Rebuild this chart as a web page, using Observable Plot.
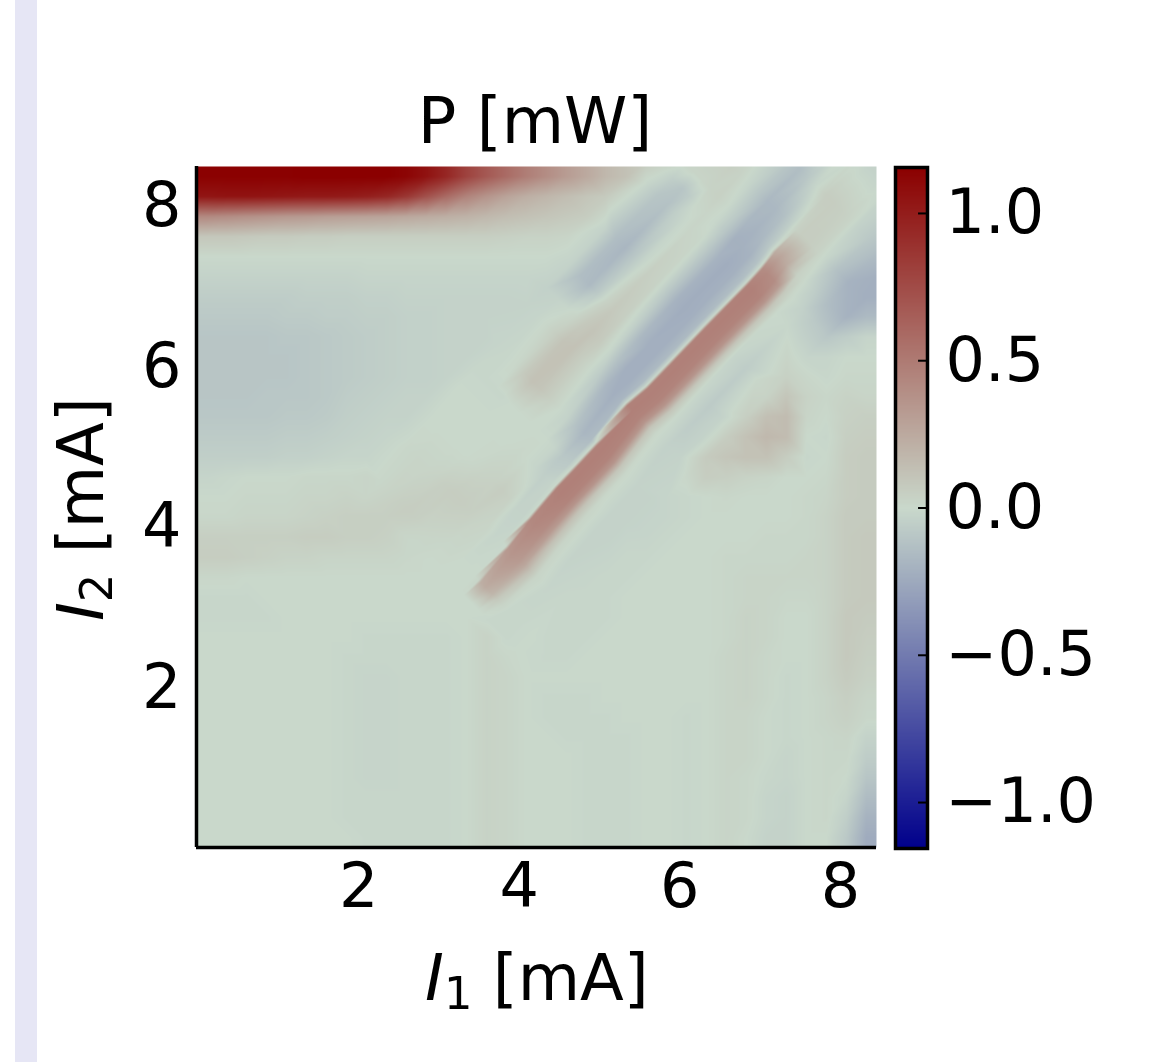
<!DOCTYPE html>
<html>
<head>
<meta charset="utf-8">
<script src="https://cdn.jsdelivr.net/npm/d3@7"></script>
<script src="https://cdn.jsdelivr.net/npm/@observablehq/plot@0.6"></script>
<style>
  html, body { margin: 0; padding: 0; background: #fff; overflow: hidden; }
  body { width: 1169px; height: 1062px; position: relative; }
  #band { position: absolute; left: 15px; top: 0; width: 22px; height: 1062px; background: #e6e6f5; }
  #main, #bar { position: absolute; top: 0; filter: blur(0.7px); }
  #main { left: 0; }
  #bar { left: 880px; }
</style>
</head>
<body>
<div id="band"></div>
<div id="main"></div>
<div id="bar"></div>
<script>
// P [mW] × 100 on a regular grid: rows run top (I2 high) to bottom, columns I1 low to high
const powerRows = [
[115,115,115,115,115,116,116,116,116,116,113,106,95,80,68,58,48,40,32,25,17,12,7,3,4,6,7,5,1,-5,-14,0,3,-3],
[104,105,105,104,103,102,102,101,99,95,86,72,58,45,36,28,22,18,14,10,7,4,1,-8,-7,2,5,1,-12,-17,-4,5,3,0],
[42,40,38,36,34,33,31,30,29,28,26,24,22,20,17,14,12,10,8,6,3,-2,-10,-10,0,4,-2,-14,-18,-3,5,7,3,-2],
[9,9,8,7,7,6,6,5,5,5,5,5,5,5,5,4,3,3,2,0,-6,-15,-12,0,3,2,-18,-22,-5,3,7,7,-2,-8],
[0,0,0,0,0,0,0,0,0,0,0,0,0,0,0,0,0,0,-1,-8,-16,-12,0,3,1,-15,-24,-14,2,20,4,-3,-10,-15],
[-3,-3,-3,-3,-3,-3,-3,-3,-2,-2,-2,-2,-2,-2,-2,-2,-2,-2,-3,-14,-15,-3,3,4,-10,-26,-22,2,42,15,0,-6,-18,-22],
[-6,-6,-6,-6,-6,-5,-5,-5,-4,-4,-3,-3,-3,-3,-3,-3,-3,-3,-3,-10,-6,3,6,5,-18,-26,-8,45,35,0,-2,-12,-22,-22],
[-8,-8,-8,-8,-7,-7,-6,-6,-5,-5,-4,-4,-3,-3,-3,-3,-3,-3,-2,1,5,7,3,-22,-26,-10,45,42,2,-1,-8,-16,-20,-16],
[-10,-10,-10,-10,-9,-9,-8,-7,-6,-5,-4,-4,-3,-3,-3,-2,-1,1,6,10,10,3,-16,-26,-12,47,44,2,-2,0,-5,-9,-6,-2],
[-10,-10,-10,-10,-10,-9,-8,-7,-6,-5,-4,-4,-3,-3,-3,-2,0,12,13,7,-3,-14,-24,-15,47,44,0,-5,-3,0,-2,-2,0,0],
[-10,-10,-10,-10,-10,-9,-8,-7,-6,-5,-4,-4,-3,-3,-3,-2,7,14,7,-2,-10,-20,-20,46,46,0,-7,-7,-3,4,1,-1,1,1],
[-10,-10,-10,-9,-9,-9,-8,-6,-5,-4,-3,-3,-2,-2,-2,-1,8,9,1,-8,-16,-24,46,46,2,-6,-6,-3,3,10,3,1,3,2],
[-9,-9,-9,-9,-8,-8,-7,-5,-4,-3,-3,-2,-2,-2,-2,-1,2,2,-3,-18,-24,46,44,0,-5,-5,0,5,13,15,2,0,4,5],
[-7,-7,-7,-7,-6,-6,-5,-4,-3,-2,-2,-2,-1,-1,-1,0,1,-1,-16,-22,32,47,12,-2,-3,1,6,12,17,15,0,-1,5,6],
[-5,-5,-5,-5,-4,-4,-3,-2,-2,-1,-1,0,0,0,0,0,0,-5,-20,18,47,20,-1,-2,1,7,10,12,12,6,-1,0,6,7],
[-2,-1,0,0,0,1,1,1,2,2,2,2,3,3,3,2,-2,-12,25,47,20,-1,-2,-1,1,6,5,3,2,0,0,1,6,7],
[0,0,1,1,1,2,2,3,3,4,4,5,5,6,6,5,-5,25,46,15,-1,-3,-3,-2,-1,0,1,0,0,0,1,2,6,7],
[1,1,2,2,2,3,4,5,5,6,6,6,6,6,4,1,22,45,12,-2,-3,-3,-3,-2,-1,0,0,0,0,0,1,3,7,7],
[5,5,5,5,5,6,6,5,5,4,3,3,2,2,1,12,42,22,-1,-3,-3,-2,-2,-1,0,0,0,0,1,1,1,3,7,8],
[6,6,5,4,3,3,2,2,2,2,1,1,1,1,2,32,22,-1,-2,-2,-1,-1,-1,0,0,0,1,1,1,1,2,3,7,8],
[1,1,0,0,0,0,0,0,0,0,0,0,0,0,20,26,1,-1,-2,-1,-1,-1,0,0,0,0,1,2,2,2,2,3,7,8],
[-1,-1,-1,0,0,0,0,0,0,0,0,0,0,0,12,5,-1,-1,-1,-1,-1,0,0,0,0,0,1,2,2,1,1,3,7,8],
[-1,-1,-1,-1,0,0,0,0,0,0,0,0,0,0,2,0,-1,-1,-1,-1,-1,0,0,0,0,0,1,3,2,0,0,3,8,7],
[0,0,0,0,0,0,0,0,-1,-1,-1,-1,-1,0,3,1,-1,-1,-1,-1,0,0,0,0,0,0,1,3,2,0,0,3,8,6],
[0,0,0,0,0,0,0,-1,-1,-1,-1,-1,-1,0,3,1,-1,-1,-1,0,0,0,0,0,0,0,2,3,1,0,0,3,8,5],
[0,0,0,0,0,0,0,-1,-2,-2,-1,-1,-1,0,3,2,0,0,0,0,0,0,0,0,0,0,2,3,1,-1,0,3,7,4],
[0,0,0,0,0,0,0,-1,-2,-2,-1,-1,-1,0,3,2,0,-1,-1,-1,0,0,0,0,0,0,2,3,1,-1,0,2,5,2],
[0,0,0,0,0,0,0,-1,-2,-2,-1,-1,-1,0,3,2,0,-1,-1,-1,-1,0,0,0,-1,0,2,2,0,-1,0,2,4,1],
[0,0,0,0,0,0,0,-1,-2,-2,-1,-1,-1,0,3,2,0,0,-1,-1,-1,-1,0,0,-1,0,2,2,0,-1,0,1,2,-3],
[0,0,0,0,0,0,0,-1,-2,-2,-1,-1,-1,0,3,2,0,0,0,-1,-1,-1,0,0,-1,0,2,2,0,-2,0,1,1,-6],
[0,0,0,0,0,0,0,-1,-2,-2,-1,-1,-1,0,3,2,0,0,0,-1,-1,-1,0,0,-1,0,2,1,-1,-2,0,1,0,-10],
[0,0,0,0,0,0,0,-1,-1,-1,-1,-1,-1,0,3,2,0,0,0,-1,-1,-1,0,0,-1,0,2,1,-2,-3,0,1,-2,-15],
[0,0,0,0,0,0,0,-1,-1,-1,-1,-1,-1,0,3,2,0,0,0,-1,-1,-1,0,0,-1,0,2,1,-2,-3,0,1,-5,-20],
[0,0,0,0,0,0,0,0,-1,-1,-1,-1,-1,0,3,2,0,0,0,-1,-1,-1,0,0,-1,0,2,0,-3,-3,0,0,-8,-24]
];
// The diagonal bands, read along their own direction: stations on the ridge line, and offsets across it
const ridgeI1 = [3.44,3.62,3.96,4.24,4.57,4.80,5.07,5.45,5.70,5.98,6.42,6.94,7.13,7.28,7.55,7.95,8.40];
const ridgeI2 = [3.03,3.22,3.64,4.00,4.39,4.63,4.92,5.42,5.63,5.92,6.38,6.91,7.12,7.32,7.60,8.00,8.45];
const acrossOffsets = [-0.55,-0.40,-0.25,-0.18,-0.11,-0.05,0.04,0.10,0.125,0.17,0.26,0.36,0.46,0.56,0.68,0.80,0.90,1.00,1.10,1.22,1.35];
const bandRows = [
[0,-1,-1,-1,0,0,0,0,0,0,0,0,0,0,1,1,2,4,5,4,2],
[0,-1,-1,2,8,18,24,22,2,0,0,0,1,1,2,3,5,6,5,3,1],
[-1,-2,2,12,26,33,36,34,0,-1,-2,2,3,5,6,6,5,3,2,2,1],
[-2,-3,2,12,32,40,43,42,0,-3,-3,4,6,4,3,1,0,0,0,0,0],
[-3,-3,2,12,36,45,47,46,0,-3,-5,-2,0,1,0,0,0,0,0,0,0],
[-3,-3,1,10,36,45,47,46,0,-8,-9,-2,0,0,0,0,0,-1,-1,-1,-1],
[-3,-3,1,10,36,45,47,46,0,-15,-18,-12,-3,0,5,10,12,8,1,-1,-2],
[-3,-4,1,10,36,45,47,46,0,-18,-22,-18,-7,0,6,12,11,5,1,-2,-3],
[-3,-6,0,10,36,45,47,46,0,-16,-22,-22,-13,-2,7,11,8,2,-1,-3,-4],
[-3,-7,-1,10,36,45,47,46,0,-16,-22,-22,-17,-5,5,8,3,-8,-16,-14,-3],
[1,-6,-2,10,36,45,47,46,0,-16,-22,-23,-20,-9,3,5,-2,-10,-18,-14,-3],
[-3,-1,0,10,36,45,47,46,0,-14,-21,-23,-20,-10,1,2,-1,-5,-12,-10,-2],
[-8,-4,1,8,32,40,42,40,0,-12,-20,-21,-21,-10,-1,2,1,-6,-10,-5,2],
[-14,-6,1,4,14,24,28,24,1,-9,-17,-20,-18,-8,0,4,3,2,2,2,3],
[-20,-12,-1,3,5,6,6,4,2,-5,-13,-17,-17,-10,-2,3,5,5,5,5,5],
[-14,-8,-3,2,4,5,6,6,6,4,-2,-9,-14,-10,-5,0,2,2,2,2,2],
[-10,-6,-3,-2,-3,-3,-3,-2,-2,0,3,3,3,3,3,3,3,3,3,3,3]
];
const i1Domain = [-0.02, 8.45];
const i2Domain = [0.02, 8.49];
const axisTicks = [2, 4, 6, 8];
const colorDomain = [-1.156, 0, 1.156];
const colorRange = ["#00008b", "#c9d8cb", "#8b0000"];
const barTicks = [-1.0, -0.5, 0.0, 0.5, 1.0];
const titleText = "P [mW]";
const unitText = " [mA]";

const font = "DejaVu Sans";
const tickSize = 62;
const labelSize = 64;
const colorScale = {type: "linear", domain: colorDomain, range: colorRange, clamp: true};

// Samples: the grid (edge cells also pinned to the plot's edge), outside the stretch the band table covers, then the band table
const centreV = d3.scaleLinear(ridgeI1.map((a, k) => a + ridgeI2[k]), ridgeI1.map((a, k) => ridgeI2[k] - a)).clamp(true);
const uFirst = ridgeI1[0] + ridgeI2[0];
const uLast = ridgeI1.at(-1) + ridgeI2.at(-1);
const inBandTable = (a, b) => {
  const u = a + b;
  if (u < uFirst - 0.1 || u > uLast + 0.1) return false;
  const d = (b - a - centreV(u)) / 2;
  return d > acrossOffsets[0] - 0.1 && d < acrossOffsets.at(-1) + 0.1;
};
const samples = [];
const nRows = powerRows.length, nCols = powerRows[0].length;
powerRows.forEach((row, r) => row.forEach((v, c) => {
  const a = i1Domain[0] + (c + 0.5) / nCols * (i1Domain[1] - i1Domain[0]);
  const b = i2Domain[1] - (r + 0.5) / nRows * (i2Domain[1] - i2Domain[0]);
  const as = [a, ...(c === 0 ? [i1Domain[0] - 0.05] : c === nCols - 1 ? [i1Domain[1] + 0.05] : [])];
  const bs = [b, ...(r === 0 ? [i2Domain[1] + 0.05] : r === nRows - 1 ? [i2Domain[0] - 0.05] : [])];
  for (const x of as) for (const y of bs) if (!inBandTable(x, y)) samples.push({i1: x, i2: y, p: v / 100});
}));
bandRows.forEach((row, s) => row.forEach((v, k) => {
  samples.push({i1: ridgeI1[s] - acrossOffsets[k], i2: ridgeI2[s] + acrossOffsets[k], p: v / 100});
}));

const main = Plot.plot({
  width: 880, height: 1062,
  marginLeft: 196, marginRight: 4, marginTop: 166, marginBottom: 215,
  style: {background: "transparent", fontFamily: font, color: "#000"},
  x: {domain: i1Domain},
  y: {domain: i2Domain},
  color: colorScale,
  marks: [
    Plot.raster(samples, {
      x: "i1", y: "i2", fill: "p", interpolate: "barycentric", pixelSize: 1,
      x1: i1Domain[0], x2: i1Domain[1], y1: i2Domain[1], y2: i2Domain[0]
    }),
    Plot.ruleX([i1Domain[0]], {stroke: "#000", strokeWidth: 3.5}),
    Plot.ruleY([i2Domain[0]], {stroke: "#000", strokeWidth: 3.5}),
    Plot.axisX({ticks: axisTicks, tickSize: 0, tickPadding: 15, fontSize: tickSize, label: null, fontFamily: font, fill: "#000"}),
    Plot.axisY({ticks: axisTicks, tickSize: 0, tickPadding: 15, fontSize: tickSize, label: null, fontFamily: font, fill: "#000"})
  ]
});
const svg = d3.select(main);
const addLabel = (x, y, rotate, sub) => {
  const t = svg.append("text")
    .attr("transform", `translate(${x},${y})${rotate ? " rotate(-90)" : ""}`)
    .attr("text-anchor", "start")
    .attr("font-family", font).attr("font-size", labelSize).attr("fill", "#000");
  t.append("tspan").attr("font-style", "italic").text("I");
  t.append("tspan").attr("font-size", labelSize * 0.7).attr("dy", 9).text(sub);
  t.append("tspan").attr("dy", -9).text(unitText);
};
svg.append("text").attr("x", 535).attr("y", 143).attr("text-anchor", "middle")
  .attr("font-family", font).attr("font-size", labelSize).attr("fill", "#000").text(titleText);
addLabel(425, 1000, false, "1");
addLabel(103, 621, true, "2");
document.getElementById("main").append(main);

const barLevels = d3.range(1156, -1157, -4).map(v => v / 1000);
const bar = Plot.plot({
  width: 280, height: 900,
  marginLeft: 15, marginRight: 233, marginTop: 167, marginBottom: 52,
  style: {background: "transparent", fontFamily: font, color: "#000"},
  x: {domain: [0, 1], axis: null},
  y: {domain: [colorDomain[0], colorDomain[2]]},
  color: colorScale,
  marks: [
    Plot.raster(barLevels, {width: 1, height: barLevels.length, x1: 0, x2: 1, y1: colorDomain[2], y2: colorDomain[0], imageRendering: "pixelated"}),
    Plot.ruleY(barTicks, {x1: 0.72, x2: 1, stroke: "#000", strokeWidth: 2}),
    Plot.frame({stroke: "#000", strokeWidth: 3.5}),
    Plot.axisY({anchor: "right", ticks: barTicks, tickFormat: d3.format(".1f"), tickSize: 0, tickPadding: 18, fontSize: tickSize, label: null, fontFamily: font, fill: "#000"})
  ]
});
document.getElementById("bar").append(bar);
</script>
</body>
</html>
